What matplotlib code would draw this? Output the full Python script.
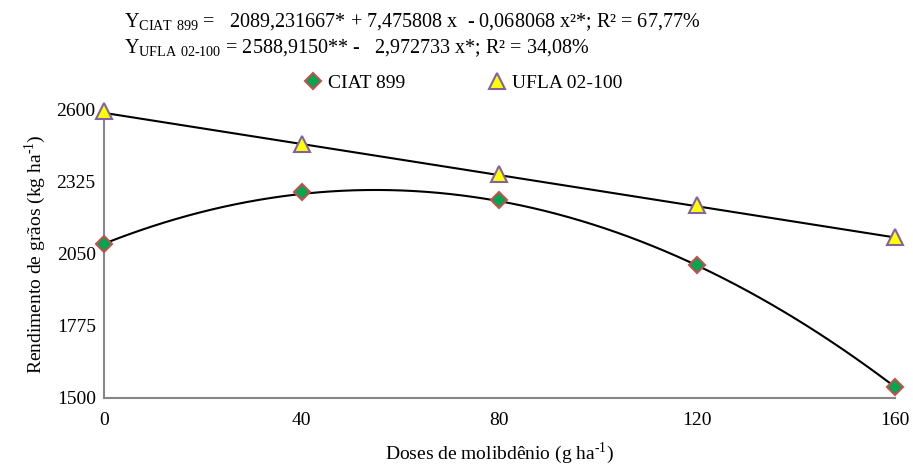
import numpy as np
import matplotlib.pyplot as plt

plt.rcParams['font.family'] = ['Liberation Serif', 'DejaVu Serif']
plt.rcParams['mathtext.fontset'] = 'custom'
plt.rcParams['mathtext.rm'] = 'Liberation Serif'

doses = [0, 40, 80, 120, 160]
ciat = [2089, 2287, 2256, 2008, 1542]
ufla = [2596, 2470, 2355, 2237, 2115]

# regression coefficients
ciat_coef = [2089.231667, 7.475808, -0.068068]
ufla_coef = [2588.9150, -2.972733]

xs = np.linspace(0, 160, 200)
ciat_fit = ciat_coef[0] + ciat_coef[1] * xs + ciat_coef[2] * xs ** 2
ufla_fit = ufla_coef[0] + ufla_coef[1] * xs

fig = plt.figure(figsize=(9.13, 4.68), dpi=100)
ax = fig.add_axes([0.114, 0.1496, 0.866, 0.6154])

ax.plot(xs, ciat_fit, color='black', lw=1.5, zorder=2)
ax.plot(xs, ufla_fit, color='black', lw=1.5, zorder=2)
ax.plot(doses, ciat, ls='none', marker='D', ms=8, mfc='#00a650',
        mec='#c0504d', mew=1.5, label='CIAT 899', clip_on=False, zorder=3)
ax.plot(doses, ufla, ls='none', marker='^', ms=11, mfc='#ffff00',
        mec='#8064a2', mew=1.5, label='UFLA 02-100', clip_on=False, zorder=3)

ax.set_xlim(0, 160)
ax.set_ylim(1500, 2600)
ax.set_xticks([0, 40, 80, 120, 160])
ax.set_yticks([1500, 1775, 2050, 2325, 2600])
ax.tick_params(length=0, labelsize=14, pad=10)
ax.tick_params(axis='y', pad=6)
for s in ['top', 'right']:
    ax.spines[s].set_visible(False)
for s in ['left', 'bottom']:
    ax.spines[s].set_color('#868686')
    ax.spines[s].set_linewidth(1.5)

ax.set_xlabel('Doses de molibdênio (g ha$^{\\mathrm{\\text{-}1}}$)', fontsize=14, labelpad=8)
ax.set_ylabel('Rendimento de grãos (kg ha$^{\\mathrm{\\text{-}1}}$)', fontsize=14, labelpad=6)

fig.text(0.136, 0.953,
         'Y$_{\\mathrm{CIAT\\ 899}}$ =   2089,231667* + 7,475808 x  - 0,068068 x²*; R² = 67,77%',
         fontsize=14.5, va='center')
fig.text(0.136, 0.898,
         'Y$_{\\mathrm{UFLA\\ 02\\text{-}100}}$ = 2588,9150** -   2,972733 x*; R² = 34,08%',
         fontsize=14.5, va='center')

fig.legend(loc='center', bbox_to_anchor=(0.507, 0.823), ncol=2, frameon=False,
           fontsize=14, handletextpad=0.3, columnspacing=4.2, handlelength=1)

fig.savefig('out.png', dpi=100)
